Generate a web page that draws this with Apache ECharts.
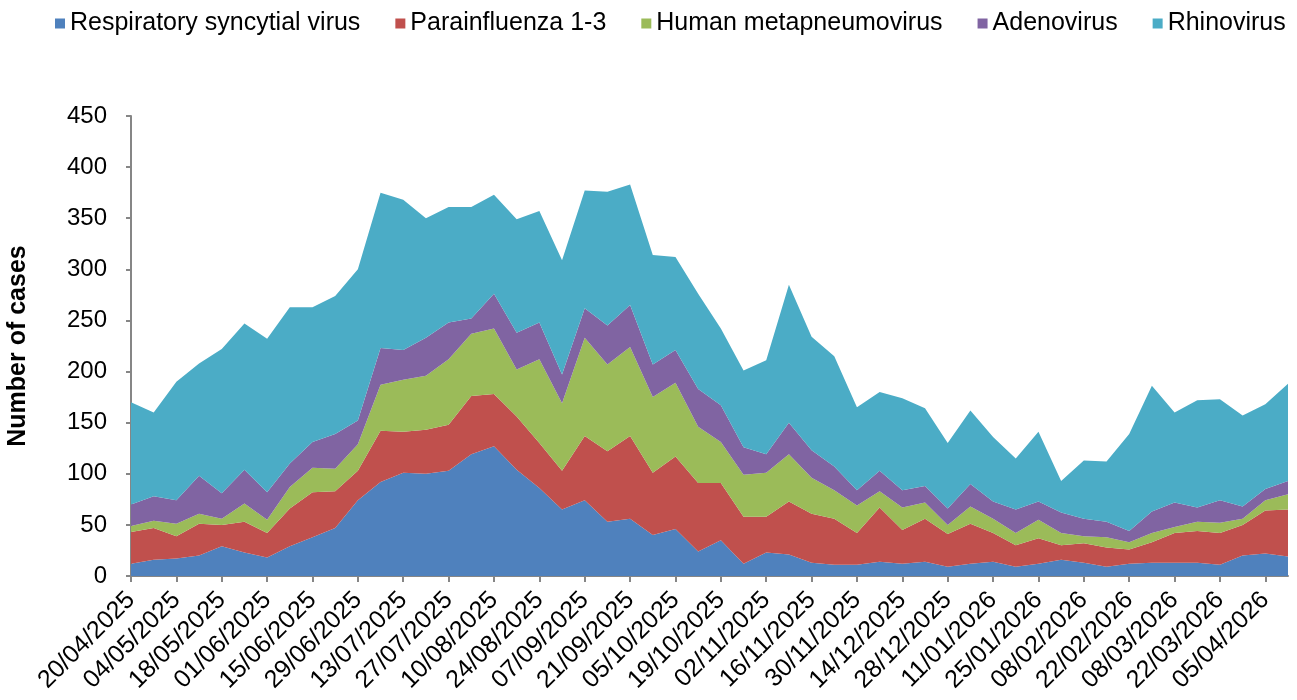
<!DOCTYPE html>
<html>
<head>
<meta charset="utf-8">
<script src="https://cdn.jsdelivr.net/npm/echarts@6/dist/echarts.min.js"></script>
<style>html,body{margin:0;padding:0;background:#fff;}#chart{width:1297px;height:700px;}</style>
</head>
<body>
<div id="chart"></div>
<script>
var weeks = ["20/04/2025","27/04/2025","04/05/2025","11/05/2025","18/05/2025","25/05/2025","01/06/2025","08/06/2025","15/06/2025","22/06/2025","29/06/2025","06/07/2025","13/07/2025","20/07/2025","27/07/2025","03/08/2025","10/08/2025","17/08/2025","24/08/2025","31/08/2025","07/09/2025","14/09/2025","21/09/2025","28/09/2025","05/10/2025","12/10/2025","19/10/2025","26/10/2025","02/11/2025","09/11/2025","16/11/2025","23/11/2025","30/11/2025","07/12/2025","14/12/2025","21/12/2025","28/12/2025","04/01/2026","11/01/2026","18/01/2026","25/01/2026","01/02/2026","08/02/2026","15/02/2026","22/02/2026","01/03/2026","08/03/2026","15/03/2026","22/03/2026","29/03/2026","05/04/2026","12/04/2026"];
var rsv = [12,16,17,20,29,23,18,29,38,47,74,92,101,100,103,119,127,104,86,65,74,53,56,40,46,24,35,12,23,21,13,11,11,14,12,14,9,12,14,9,12,16,13,9,12,13,13,13,11,20,22,19];
var parainfluenza = [31,31,22,31,21,30,24,37,44,36,29,50,40,43,45,57,51,52,44,38,63,69,81,61,71,67,56,46,35,52,48,45,31,53,33,42,32,39,28,21,25,14,19,19,14,20,29,31,31,30,42,46];
var hmpv = [6,7,12,10,6,18,13,21,24,22,26,45,51,53,64,61,64,46,82,66,96,85,87,74,72,55,40,41,43,46,35,28,27,16,22,16,9,17,14,12,18,12,7,10,7,9,6,9,10,6,10,15];
var adenovirus = [21,24,23,37,25,33,27,23,25,34,23,36,29,37,36,15,34,36,36,28,29,38,41,32,32,37,36,27,18,31,27,23,15,20,17,16,16,22,17,23,18,20,17,15,11,21,24,14,22,12,11,13];
var rhinovirus = [100,82,116,110,141,143,150,153,132,135,148,152,147,117,113,109,97,111,109,112,115,131,118,107,91,93,75,75,92,135,111,108,81,77,90,76,64,72,63,50,68,31,57,59,95,123,88,105,99,89,83,95];
var seriesNames = ["Respiratory syncytial virus","Parainfluenza 1-3","Human metapneumovirus","Adenovirus","Rhinovirus"];
var yTicks = {min: 0, max: 450, interval: 50};

var colors = ["#4F81BD","#C0504D","#9BBB59","#8064A2","#4BACC6"];
var dataSets = [rsv, parainfluenza, hmpv, adenovirus, rhinovirus];
var font = "'Liberation Sans', Arial, sans-serif";

var chart = echarts.init(document.getElementById('chart'), null, {renderer: 'canvas'});
chart.setOption({
  animation: false,
  color: colors,
  textStyle: {fontFamily: font},
  legend: {
    left: 50, top: 6,
    itemWidth: 10, itemHeight: 10, itemGap: 35,
    icon: 'rect',
    textStyle: {fontSize: 25, color: '#000', fontFamily: font},
    data: seriesNames
  },
  grid: {left: 131, right: 9, top: 116, bottom: 124, containLabel: false, outerBoundsMode: 'none'},
  xAxis: {
    type: 'category',
    data: weeks,
    boundaryGap: false,
    axisLine: {lineStyle: {color: '#868686', width: 2}},
    axisTick: {show: true, interval: 1, length: 6, lineStyle: {color: '#868686', width: 2}},
    axisLabel: {interval: 1, rotate: 45, fontSize: 25, color: '#000', margin: 20, fontFamily: font},
    splitLine: {show: false}
  },
  yAxis: {
    type: 'value',
    min: yTicks.min, max: yTicks.max, interval: yTicks.interval,
    name: 'Number of cases',
    nameLocation: 'middle',
    nameGap: 100,
    nameRotate: 90,
    nameTextStyle: {fontSize: 25, fontWeight: 'bold', color: '#000', fontFamily: font},
    axisLine: {show: true, lineStyle: {color: '#868686', width: 2}},
    axisTick: {show: true, length: 5, lineStyle: {color: '#868686', width: 2}},
    axisLabel: {fontSize: 24, color: '#000', margin: 24, fontFamily: font},
    splitLine: {show: false}
  },
  series: seriesNames.map(function (n, k) {
    return {
      name: n,
      type: 'line',
      stack: 'total',
      data: dataSets[k],
      symbol: 'none',
      lineStyle: {width: 0},
      areaStyle: {color: colors[k], opacity: 1},
      itemStyle: {color: colors[k]}
    };
  })
});
</script>
</body>
</html>
